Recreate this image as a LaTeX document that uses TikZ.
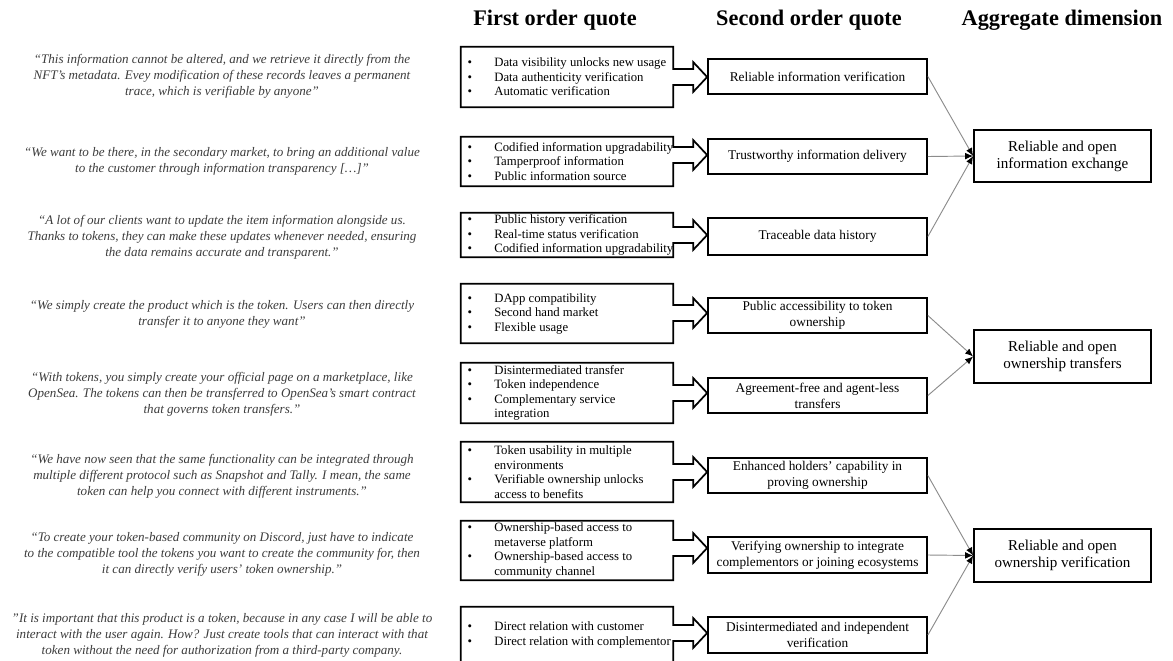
\documentclass[tikz,border=0pt]{standalone}
\usepackage{fontspec}
\setmainfont{Liberation Serif}
\usetikzlibrary{arrows.meta,fit,calc}
\definecolor{quotegray}{HTML}{3C3C3C}
\definecolor{linegray}{HTML}{8C8C8C}
\newcommand\bl{\makebox[20pt][l]{\textbullet}}
\newcommand\ind{\hspace*{20pt}}
\newcommand\foarrow[3]{%
  \coordinate (T#1) at (#2.west |- 0,#3);
  \path (T#1) ++(-14,-8) coordinate (A#1) ++(0,-7) coordinate (B#1) ++(0,30) coordinate (C#1) ++(0,-7) coordinate (D#1);
  \draw[boxline] (#1.north west) -- (#1.north east) -- (#1.east |- A#1) -- (A#1) -- (B#1) -- (T#1) -- (C#1) -- (D#1) -- (#1.east |- D#1) -- (#1.south east) -- (#1.south west) -- cycle;}
\begin{document}
\begin{tikzpicture}[x=0.75pt,y=-0.75pt,
  boxline/.style={line width=1.3pt, line join=miter},
  frame/.style={inner sep=0pt},
  fotext/.style={inner sep=0pt, anchor=west, align=left, font=\fontsize{9.55}{10.9}\selectfont},
  sotext/.style={inner sep=0pt, align=center, font=\fontsize{10}{12}\selectfont},
  aggtext/.style={inner sep=0pt, align=center, font=\fontsize{11.3}{12.75}\selectfont},
  quote/.style={inner sep=0pt, align=center, text=quotegray, font=\fontsize{9.8}{12}\selectfont\itshape},
  head/.style={inner sep=0pt, font=\fontsize{16.7}{20}\selectfont\bfseries},
  link/.style={draw=linegray, line width=0.7pt, -{Latex[length=6pt,width=5pt,color=black]}}
]
\useasboundingbox (0,0) rectangle (1173,660);
\clip (0,0) rectangle (1173,660);

% headers
\node[head] (h1) at (555,20) {First order quote};
\node[head] (h2) at (809,20) {Second order quote};
\node[head] (h3) at (1062,20) {Aggregate dimension};

% quotes
\node[quote] (q1) at (222,76) {“This information cannot be altered, and we retrieve it directly from the\\NFT’s metadata. Evey modification of these records leaves a permanent\\trace, which is verifiable by anyone”};
\node[quote] (q2) at (222,161) {“We want to be there, in the secondary market, to bring an additional value\\to the customer through information transparency […]”};
\node[quote] (q3) at (222,237) {“A lot of our clients want to update the item information alongside us.\\Thanks to tokens, they can make these updates whenever needed, ensuring\\the data remains accurate and transparent.”};
\node[quote] (q4) at (222,314) {“We simply create the product which is the token. Users can then directly\\transfer it to anyone they want”};
\node[quote] (q5) at (222,394) {“With tokens, you simply create your official page on a marketplace, like\\OpenSea. The tokens can then be transferred to OpenSea's smart contract\\that governs token transfers.”};
\node[quote] (q6) at (222,476) {“We have now seen that the same functionality can be integrated through\\multiple different protocol such as Snapshot and Tally. I mean, the same\\token can help you connect with different instruments.”};
\node[quote] (q7) at (222,554) {“To create your token-based community on Discord, just have to indicate\\to the compatible tool the tokens you want to create the community for, then\\it can directly verify users’ token ownership.”};
\node[quote] (q8) at (222,635) {"It is important that this product is a token, because in any case I will be able to\\interact with the user again. How? Just create tools that can interact with that\\token without the need for authorization from a third-party company.};

% second order boxes
\node[frame, draw, boxline, fit={(708,59)(927,94)}] (s1) {};
\node[sotext] at (s1.center) {Reliable information verification};
\node[frame, draw, boxline, fit={(708,139)(927,174)}] (s2) {};
\node[sotext] at (s2.center) {Trustworthy information delivery};
\node[frame, draw, boxline, fit={(708,218)(927,255)}] (s3) {};
\node[sotext] at (s3.center) {Traceable data history};
\node[frame, draw, boxline, fit={(708,298)(927,333)}] (s4) {};
\node[sotext] at (s4.center) {Public accessibility to token\\ownership};
\node[frame, draw, boxline, fit={(708,378)(927,413)}] (s5) {};
\node[sotext] at (s5.center) {Agreement-free and agent-less\\transfers};
\node[frame, draw, boxline, fit={(708,458)(927,493)}] (s6) {};
\node[sotext] at (s6.center) {Enhanced holders’ capability in\\proving ownership};
\node[frame, draw, boxline, fit={(708,537)(927,573)}] (s7) {};
\node[sotext] at (s7.center) {Verifying ownership to integrate\\complementors or joining ecosystems};
\node[frame, draw, boxline, fit={(708,617)(927,653)}] (s8) {};
\node[sotext] at (s8.center) {Disintermediated and independent\\verification};

% first order boxes
\node[frame, fit={(461,47)(673,107)}] (f1) {};
\node[fotext] at ([xshift=5]f1.west) {\bl Data visibility unlocks new usage\\\bl Data authenticity verification\\\bl Automatic verification};
\node[frame, fit={(461,137)(673,186)}] (f2) {};
\node[fotext] at ([xshift=5]f2.west) {\bl Codified information upgradability\\\bl Tamperproof information\\\bl Public information source};
\node[frame, fit={(461,213)(673,257)}] (f3) {};
\node[fotext] at ([xshift=5]f3.west) {\bl Public history verification\\\bl Real-time status verification\\\bl Codified information upgradability};
\node[frame, fit={(461,284)(673,343)}] (f4) {};
\node[fotext] at ([xshift=5]f4.west) {\bl DApp compatibility\\\bl Second hand market\\\bl Flexible usage};
\node[frame, fit={(461,363)(673,423)}] (f5) {};
\node[fotext] at ([xshift=5]f5.west) {\bl Disintermediated transfer\\\bl Token independence\\\bl Complementary service\\\ind integration};
\node[frame, fit={(461,442)(673,502)}] (f6) {};
\node[fotext] at ([xshift=5]f6.west) {\bl Token usability in multiple\\\ind environments\\\bl Verifiable ownership unlocks\\\ind access to benefits};
\node[frame, fit={(461,521)(673,580)}] (f7) {};
\node[fotext] at ([xshift=5]f7.west) {\bl Ownership-based access to\\\ind metaverse platform\\\bl Ownership-based access to\\\ind community channel};
\node[frame, fit={(461,607)(673,663)}] (f8) {};
\node[fotext] at ([xshift=5]f8.west) {\bl Direct relation with customer\\\bl Direct relation with complementor};

\foarrow{f1}{s1}{77}
\foarrow{f2}{s2}{155}
\foarrow{f3}{s3}{235}
\foarrow{f4}{s4}{313}
\foarrow{f5}{s5}{393}
\foarrow{f6}{s6}{472}
\foarrow{f7}{s7}{548}
\foarrow{f8}{s8}{633}

% aggregate boxes
\node[frame, draw, boxline, fit={(974,130)(1151,182)}] (a1) {};
\node[aggtext] at (a1.center) {Reliable and open\\information exchange};
\node[frame, draw, boxline, fit={(974,330)(1151,383)}] (a2) {};
\node[aggtext] at (a2.center) {Reliable and open\\ownership transfers};
\node[frame, draw, boxline, fit={(974,529)(1151,582)}] (a3) {};
\node[aggtext] at (a3.center) {Reliable and open\\ownership verification};

% links
\draw[link] (s1.east) -- (a1.west);
\draw[link] (s2.east) -- (a1.west);
\draw[link] (s3.east) -- (a1.west);
\draw[link] (s4.east) -- (a2.west);
\draw[link] (s5.east) -- (a2.west);
\draw[link] (s6.east) -- (a3.west);
\draw[link] (s7.east) -- (a3.west);
\draw[link] (s8.east) -- (a3.west);
\end{tikzpicture}
\end{document}
